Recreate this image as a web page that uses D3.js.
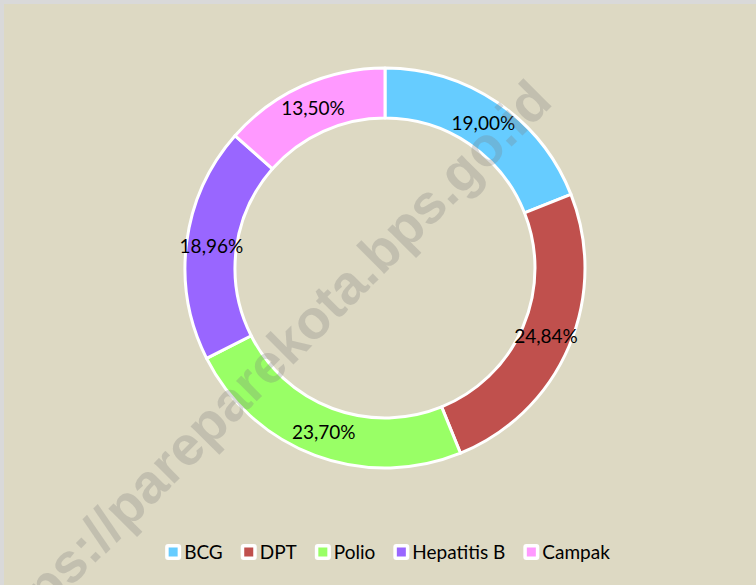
<!DOCTYPE html>
<html>
<head>
<meta charset="utf-8">
<script src="https://cdn.jsdelivr.net/npm/d3@7"></script>
<style>
  body { margin: 0; }
  svg { display: block; }
</style>
</head>
<body>
<main></main>
<script>
const categories = ["BCG", "DPT", "Polio", "Hepatitis B", "Campak"];
const values = [19.00, 24.84, 23.70, 18.96, 13.50];
const labels = ["19,00%", "24,84%", "23,70%", "18,96%", "13,50%"];
const colors = ["#66CCFF", "#C0504D", "#99FF66", "#9966FF", "#FF99FF"];

const WIDTH = 756;
const HEIGHT = 585;
const CX = 385, CY = 268;
const OUTER = 200, INNER = 150;

const svg = d3.select("main").append("svg")
    .attr("width", WIDTH)
    .attr("height", HEIGHT);

// outer frame + chart area
svg.append("rect").attr("width", WIDTH).attr("height", HEIGHT).attr("fill", "#D9D9D9");
svg.append("rect")
    .attr("x", 4).attr("y", 4)
    .attr("width", WIDTH - 4).attr("height", HEIGHT - 4)
    .attr("fill", "#DDD9C3");

const data = categories.map((c, i) => ({ name: c, value: values[i], label: labels[i], color: colors[i] }));

const pie = d3.pie().sort(null).value(d => d.value);
const arc = d3.arc().innerRadius(INNER).outerRadius(OUTER);
const labelArc = d3.arc().innerRadius(175).outerRadius(175);

const donut = svg.append("g").attr("transform", `translate(${CX}, ${CY})`);

donut.selectAll("path")
    .data(pie(data))
    .join("path")
    .attr("d", arc)
    .attr("fill", d => d.data.color)
    .attr("stroke", "#fff")
    .attr("stroke-width", 3)
    .attr("stroke-linejoin", "round");

donut.selectAll("text")
    .data(pie(data))
    .join("text")
    .attr("transform", d => `translate(${labelArc.centroid(d)})`)
    .attr("text-anchor", "middle")
    .attr("dy", "0.35em")
    .attr("font-family", "Lato, 'Open Sans', sans-serif")
    .attr("font-size", 19)
    .attr("fill", "#000")
    .text(d => d.data.label);

// legend
const legend = svg.append("g").attr("transform", "translate(0, 552)");
const items = legend.selectAll("g")
    .data(data)
    .join("g");

items.append("rect")
    .attr("x", 0).attr("y", -8)
    .attr("width", 16).attr("height", 16)
    .attr("rx", 3)
    .attr("fill", "#fff");
items.append("rect")
    .attr("x", 3.5).attr("y", -4.5)
    .attr("width", 9).attr("height", 9)
    .attr("fill", d => d.color);
items.append("text")
    .attr("x", 19)
    .attr("dy", "0.35em")
    .attr("font-family", "Lato, 'Open Sans', sans-serif")
    .attr("font-size", 19)
    .attr("fill", "#000")
    .text(d => d.name);

const GAP = 18;
const widths = [];
items.each(function () {
    widths.push(19 + d3.select(this).select("text").node().getComputedTextLength());
});
const totalW = d3.sum(widths) + GAP * (widths.length - 1);
let xPos = 387.5 - totalW / 2;
items.attr("transform", (d, i) => {
    const x = xPos;
    xPos += widths[i] + GAP;
    return `translate(${x}, 0)`;
});

// watermark
svg.append("text")
    .attr("transform", "translate(265, 372) rotate(-45)")
    .attr("text-anchor", "middle")
    .attr("dy", "0.27em")
    .attr("font-family", "'Liberation Sans', Arial, sans-serif")
    .attr("font-weight", "bold")
    .attr("font-size", 55)
    .attr("fill", "#7f7f7f")
    .attr("fill-opacity", 0.28)
    .text("https://pareparekota.bps.go.id");
</script>
</body>
</html>
